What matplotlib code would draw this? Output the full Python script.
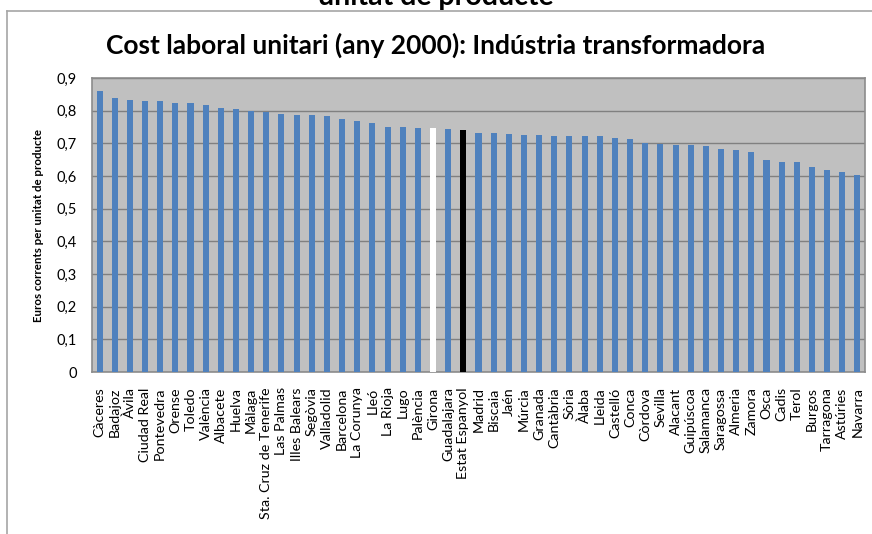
import matplotlib
matplotlib.use("Agg")
import matplotlib.pyplot as plt
from matplotlib.lines import Line2D

provinces = [
    "Càceres", "Badajoz", "Àvila", "Ciudad Real", "Pontevedra", "Orense",
    "Toledo", "València", "Albacete", "Huelva", "Màlaga",
    "Sta. Cruz de Tenerife", "Las Palmas", "Illes Balears", "Segòvia",
    "Valladolid", "Barcelona", "La Corunya", "Lleó", "La Rioja", "Lugo",
    "Palència", "Girona", "Guadalajara", "Estat Espanyol", "Madrid",
    "Biscaia", "Jaén", "Múrcia", "Granada", "Cantàbria", "Sòria", "Àlaba",
    "Lleida", "Castelló", "Conca", "Còrdova", "Sevilla", "Alacant",
    "Guipúscoa", "Salamanca", "Saragossa", "Almeria", "Zamora", "Osca",
    "Cadis", "Terol", "Burgos", "Tarragona", "Astúries", "Navarra",
]
cost = [
    0.860, 0.839, 0.832, 0.829, 0.829, 0.824, 0.824, 0.817, 0.809, 0.806,
    0.799, 0.795, 0.791, 0.787, 0.787, 0.783, 0.776, 0.769, 0.762, 0.749,
    0.749, 0.746, 0.746, 0.743, 0.740, 0.731, 0.731, 0.728, 0.725, 0.725,
    0.721, 0.721, 0.721, 0.721, 0.717, 0.713, 0.701, 0.698, 0.694, 0.694,
    0.691, 0.684, 0.680, 0.672, 0.650, 0.643, 0.643, 0.628, 0.617, 0.613,
    0.603,
]
yticks = [0, 0.1, 0.2, 0.3, 0.4, 0.5, 0.6, 0.7, 0.8, 0.9]

font = ["Lato", "DejaVu Sans"]
plt.rcParams["font.family"] = font

colors = []
for p in provinces:
    if p == "Girona":
        colors.append("white")
    elif p == "Estat Espanyol":
        colors.append("black")
    else:
        colors.append("#4F81BD")

fig = plt.figure(figsize=(8.72, 5.34), dpi=100)
ax = fig.add_axes([92 / 872, 1 - 372 / 534, 773 / 872, 294 / 534])
ax.set_facecolor("#C0C0C0")
ax.bar(range(len(cost)), cost, width=0.4, color=colors, zorder=3)
ax.set_xlim(-0.5, len(cost) - 0.5)
ax.set_ylim(0, 0.9)
ax.set_yticks(yticks)
ax.set_yticklabels([f"{t:.1f}".replace(".", ",") if t else "0" for t in yticks],
                   fontsize=10.5)
ax.set_xticks(range(len(provinces)))
ax.set_xticklabels(provinces, rotation=90, fontsize=10.3)
ax.tick_params(axis="both", length=0)
ax.tick_params(axis="x", pad=11)
ax.tick_params(axis="y", pad=11)
ax.grid(axis="y", color="#808080", lw=1.0, zorder=1)
for s in ax.spines.values():
    s.set_color("#8C8C8C")
    s.set_linewidth(1.2)

ax.set_ylabel("Euros corrents per unitat de producte", fontsize=8.3,
              fontweight="bold", labelpad=9)

fig.text(0.5, 1 - 45 / 534, "Cost laboral unitari (any 2000): Indústria transformadora",
         ha="center", va="center", fontsize=19, fontweight="bold")
# title of the slide above, cut off by the crop
fig.text(0.5, 1 - 5 / 534, "unitat de producte", ha="center", va="baseline",
         fontsize=20.5, fontweight="bold")

# chart frame, only left and top edges are visible
fig.add_artist(Line2D([7 / 872, 7 / 872], [0, 1 - 11 / 534], color="#A6A6A6",
                      lw=1.2, transform=fig.transFigure))
fig.add_artist(Line2D([7 / 872, 1], [1 - 11 / 534, 1 - 11 / 534], color="#A6A6A6",
                      lw=1.2, transform=fig.transFigure))

fig.savefig("out.png", dpi=100)
